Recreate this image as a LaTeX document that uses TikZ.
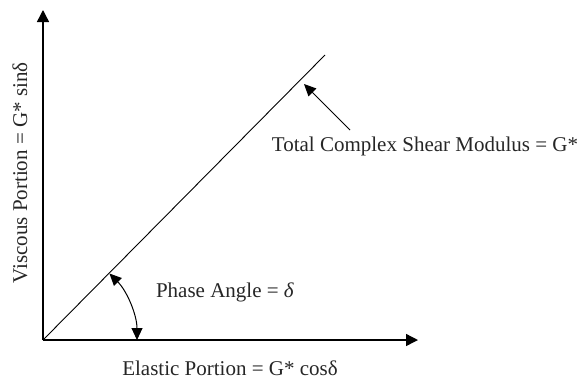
\documentclass[tikz,border=0pt]{standalone}
\usepackage{fontspec}
\setmainfont{Liberation Serif}
\usetikzlibrary{arrows.meta,calc}
\begin{document}
\begin{tikzpicture}[x=1bp,y=-1bp,
  axis/.style={line width=1.4bp,-{Triangle[length=12bp,width=12bp]}},
  lbl/.style={font=\fontsize{21bp}{25bp}\selectfont, inner sep=0pt, text=black!85, anchor=base},
  ptr/.style={line width=1bp,-{Triangle[length=12bp,width=11bp]}},
  dptr/.style={line width=1bp,{Triangle[length=12bp,width=11bp]}-{Triangle[length=12bp,width=11bp]}}]
\useasboundingbox (0,0) rectangle (579,379);
\coordinate (O) at (43,340);
\coordinate (ytop) at (43,10);
\coordinate (xend) at (418,340);
\coordinate (dtop) at (325,55);
\draw[axis] (O) -- (ytop);
\draw[axis] (O) -- (xend);
\draw[line width=0.9bp] (O) -- (dtop);
\node[lbl, rotate=90] (vis) at (27,173) {Viscous Portion = G* sinδ};
\node[lbl] (ela) at (230,375) {Elastic Portion = G* cosδ};
\node[lbl] (tot) at (425,151) {Total Complex Shear Modulus = G*};
\node[lbl] (pha) at (225,297) {Phase Angle = \textit{δ}};
\coordinate (tip) at (304,84);
\coordinate (tail) at (350,130);
\draw[ptr] (tail) -- (tip);
\draw[dptr] ($(O)+(-45:94)$) arc (-45:0:94);
\end{tikzpicture}
\end{document}
